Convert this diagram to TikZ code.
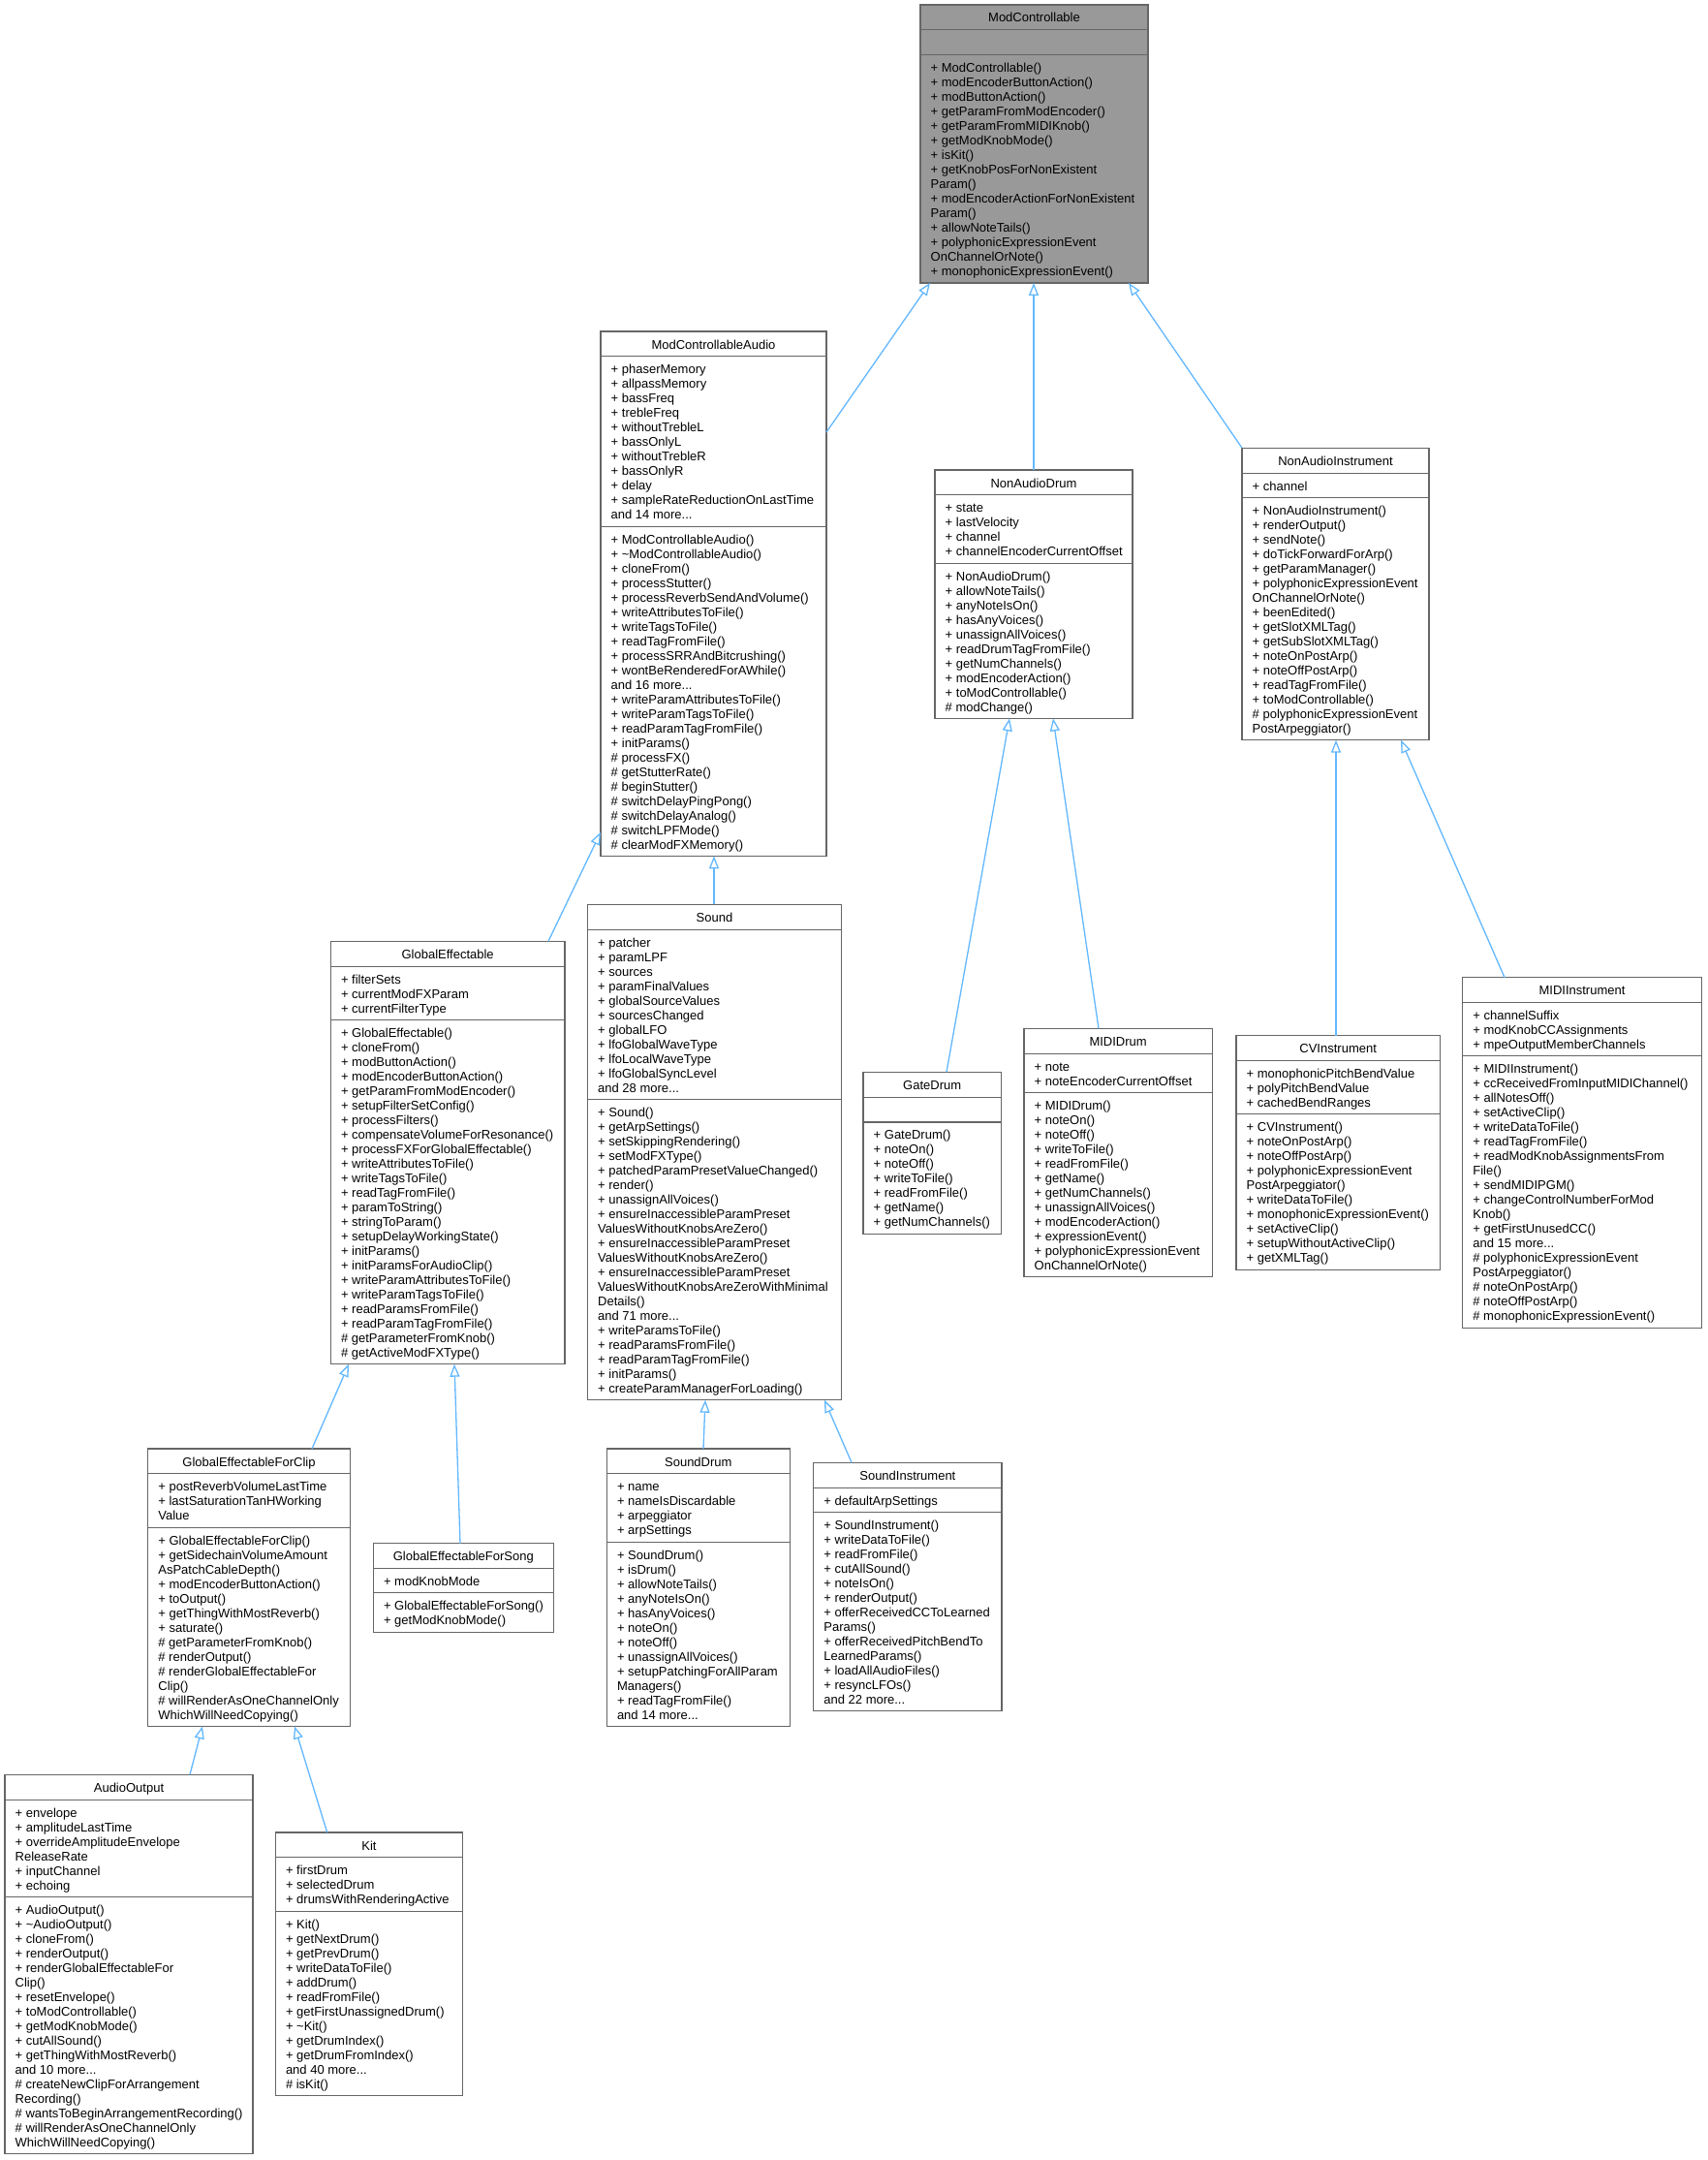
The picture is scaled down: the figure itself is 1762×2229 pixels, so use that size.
\documentclass[tikz,border=0pt]{standalone}
\usepackage{fontspec}
\setmainfont{Liberation Sans}
\usetikzlibrary{arrows.meta,calc}
\definecolor{bordergray}{HTML}{666666}
\definecolor{mcgray}{HTML}{999999}
\definecolor{edgeblue}{HTML}{63B8FF}
\tikzset{
  cls/.style={draw=bordergray, line width=1.2pt, fill=white, inner sep=0pt, outer sep=0pt, rectangle},
  sepline/.style={draw=bordergray, line width=1.2pt},
  ttl/.style={font=\fontsize{13}{15}\selectfont, inner sep=0pt},
  mem/.style={font=\fontsize{13}{15}\selectfont, align=left, inner sep=0pt},
  inh/.style={draw=edgeblue, line width=1.3pt, -{Triangle[open, length=13pt, width=10pt, line width=1.3pt]}},
}
% #1 name, #2 left, #3 right, #4 top, #5 title, #6 n attr lines, #7 attrs, #8 n method lines, #9 methods
\newcommand\umlclass[9]{%
  \pgfmathsetmacro\uW{#3-#2}%
  \pgfmathsetmacro\uS{#4+25.8}%
  \pgfmathsetmacro\uHA{#6==0 ? 25.8 : #6*15+10.3}%
  \pgfmathsetmacro\uT{\uS+\uHA}%
  \pgfmathsetmacro\uB{\uT+#8*15+10.3}%
  \pgfmathsetmacro\uH{\uB-#4}%
  \node[cls, minimum width=\uW pt, minimum height=\uH pt, anchor=north west] (#1) at (#2,#4) {};
  \draw[sepline] (#2,\uS) -- (#3,\uS);
  \draw[sepline] (#2,\uT) -- (#3,\uT);
  \node[ttl, anchor=base] (#1-t) at ({(#2+#3)/2},#4+18) {#5};
  \ifnum#6>0 \node[mem, anchor=north west] (#1-a) at (#2+10.5,\uS+7.3) {\strut#7};\fi
  \node[mem, anchor=north west] (#1-m) at (#2+10.5,\uT+7.3) {\strut#9};
}
\begin{document}
\begin{tikzpicture}[x=1pt, y=-1pt]
\fill[white] (0,0) rectangle (1762,2229);
\useasboundingbox (0,0) rectangle (1762,2229);

\begin{scope}
\tikzset{cls/.append style={fill=mcgray}}
\umlclass{MC}{950}{1185}{5}{ModControllable}{0}{}{15}{%
+ ModControllable()\\+ modEncoderButtonAction()\\+ modButtonAction()\\+ getParamFromModEncoder()\\+ getParamFromMIDIKnob()\\+ getModKnobMode()\\+ isKit()\\+ getKnobPosForNonExistent\\Param()\\+ modEncoderActionForNonExistent\\Param()\\+ allowNoteTails()\\+ polyphonicExpressionEvent\\OnChannelOrNote()\\+ monophonicExpressionEvent()}
\end{scope}

\umlclass{MCA}{620}{853}{342}{ModControllableAudio}{11}{%
+ phaserMemory\\+ allpassMemory\\+ bassFreq\\+ trebleFreq\\+ withoutTrebleL\\+ bassOnlyL\\+ withoutTrebleR\\+ bassOnlyR\\+ delay\\+ sampleRateReductionOnLastTime\\and 14 more...}{22}{%
+ ModControllableAudio()\\+ \textasciitilde ModControllableAudio()\\+ cloneFrom()\\+ processStutter()\\+ processReverbSendAndVolume()\\+ writeAttributesToFile()\\+ writeTagsToFile()\\+ readTagFromFile()\\+ processSRRAndBitcrushing()\\+ wontBeRenderedForAWhile()\\and 16 more...\\+ writeParamAttributesToFile()\\+ writeParamTagsToFile()\\+ readParamTagFromFile()\\+ initParams()\\\# processFX()\\\# getStutterRate()\\\# beginStutter()\\\# switchDelayPingPong()\\\# switchDelayAnalog()\\\# switchLPFMode()\\\# clearModFXMemory()}

\umlclass{NAD}{965}{1169}{485}{NonAudioDrum}{4}{%
+ state\\+ lastVelocity\\+ channel\\+ channelEncoderCurrentOffset}{10}{%
+ NonAudioDrum()\\+ allowNoteTails()\\+ anyNoteIsOn()\\+ hasAnyVoices()\\+ unassignAllVoices()\\+ readDrumTagFromFile()\\+ getNumChannels()\\+ modEncoderAction()\\+ toModControllable()\\\# modChange()}

\umlclass{NAI}{1282}{1475}{462.3}{NonAudioInstrument}{1}{%
+ channel}{16}{%
+ NonAudioInstrument()\\+ renderOutput()\\+ sendNote()\\+ doTickForwardForArp()\\+ getParamManager()\\+ polyphonicExpressionEvent\\OnChannelOrNote()\\+ beenEdited()\\+ getSlotXMLTag()\\+ getSubSlotXMLTag()\\+ noteOnPostArp()\\+ noteOffPostArp()\\+ readTagFromFile()\\+ toModControllable()\\\# polyphonicExpressionEvent\\PostArpeggiator()}

\umlclass{GE}{341.3}{583}{971.3}{GlobalEffectable}{3}{%
+ filterSets\\+ currentModFXParam\\+ currentFilterType}{23}{%
+ GlobalEffectable()\\+ cloneFrom()\\+ modButtonAction()\\+ modEncoderButtonAction()\\+ getParamFromModEncoder()\\+ setupFilterSetConfig()\\+ processFilters()\\+ compensateVolumeForResonance()\\+ processFXForGlobalEffectable()\\+ writeAttributesToFile()\\+ writeTagsToFile()\\+ readTagFromFile()\\+ paramToString()\\+ stringToParam()\\+ setupDelayWorkingState()\\+ initParams()\\+ initParamsForAudioClip()\\+ writeParamAttributesToFile()\\+ writeParamTagsToFile()\\+ readParamsFromFile()\\+ readParamTagFromFile()\\\# getParameterFromKnob()\\\# getActiveModFXType()}

\umlclass{Sound}{606.5}{868.5}{933.3}{Sound}{11}{%
+ patcher\\+ paramLPF\\+ sources\\+ paramFinalValues\\+ globalSourceValues\\+ sourcesChanged\\+ globalLFO\\+ lfoGlobalWaveType\\+ lfoLocalWaveType\\+ lfoGlobalSyncLevel\\and 28 more...}{20}{%
+ Sound()\\+ getArpSettings()\\+ setSkippingRendering()\\+ setModFXType()\\+ patchedParamPresetValueChanged()\\+ render()\\+ unassignAllVoices()\\+ ensureInaccessibleParamPreset\\ValuesWithoutKnobsAreZero()\\+ ensureInaccessibleParamPreset\\ValuesWithoutKnobsAreZero()\\+ ensureInaccessibleParamPreset\\ValuesWithoutKnobsAreZeroWithMinimal\\Details()\\and 71 more...\\+ writeParamsToFile()\\+ readParamsFromFile()\\+ readParamTagFromFile()\\+ initParams()\\+ createParamManagerForLoading()}

\umlclass{GateDrum}{891}{1033.3}{1106.3}{GateDrum}{0}{}{7}{%
+ GateDrum()\\+ noteOn()\\+ noteOff()\\+ writeToFile()\\+ readFromFile()\\+ getName()\\+ getNumChannels()}

\umlclass{MIDIDrum}{1057}{1251.3}{1061.3}{MIDIDrum}{2}{%
+ note\\+ noteEncoderCurrentOffset}{12}{%
+ MIDIDrum()\\+ noteOn()\\+ noteOff()\\+ writeToFile()\\+ readFromFile()\\+ getName()\\+ getNumChannels()\\+ unassignAllVoices()\\+ modEncoderAction()\\+ expressionEvent()\\+ polyphonicExpressionEvent\\OnChannelOrNote()}

\umlclass{CV}{1276}{1486.3}{1068.7}{CVInstrument}{3}{%
+ monophonicPitchBendValue\\+ polyPitchBendValue\\+ cachedBendRanges}{10}{%
+ CVInstrument()\\+ noteOnPostArp()\\+ noteOffPostArp()\\+ polyphonicExpressionEvent\\PostArpeggiator()\\+ writeDataToFile()\\+ monophonicExpressionEvent()\\+ setActiveClip()\\+ setupWithoutActiveClip()\\+ getXMLTag()}

\umlclass{MIDIInst}{1509.7}{1756.3}{1008.7}{MIDIInstrument}{3}{%
+ channelSuffix\\+ modKnobCCAssignments\\+ mpeOutputMemberChannels}{18}{%
+ MIDIInstrument()\\+ ccReceivedFromInputMIDIChannel()\\+ allNotesOff()\\+ setActiveClip()\\+ writeDataToFile()\\+ readTagFromFile()\\+ readModKnobAssignmentsFrom\\File()\\+ sendMIDIPGM()\\+ changeControlNumberForMod\\Knob()\\+ getFirstUnusedCC()\\and 15 more...\\\# polyphonicExpressionEvent\\PostArpeggiator()\\\# noteOnPostArp()\\\# noteOffPostArp()\\\# monophonicExpressionEvent()}

\umlclass{GEFC}{152.7}{361.3}{1495}{GlobalEffectableForClip}{3}{%
+ postReverbVolumeLastTime\\+ lastSaturationTanHWorking\\Value}{13}{%
+ GlobalEffectableForClip()\\+ getSidechainVolumeAmount\\AsPatchCableDepth()\\+ modEncoderButtonAction()\\+ toOutput()\\+ getThingWithMostReverb()\\+ saturate()\\\# getParameterFromKnob()\\\# renderOutput()\\\# renderGlobalEffectableFor\\Clip()\\\# willRenderAsOneChannelOnly\\WhichWillNeedCopying()}

\umlclass{GEFS}{385.3}{571.3}{1592.7}{GlobalEffectableForSong}{1}{%
+ modKnobMode}{2}{%
+ GlobalEffectableForSong()\\+ getModKnobMode()}

\umlclass{SoundDrum}{626.3}{815.3}{1495}{SoundDrum}{4}{%
+ name\\+ nameIsDiscardable\\+ arpeggiator\\+ arpSettings}{12}{%
+ SoundDrum()\\+ isDrum()\\+ allowNoteTails()\\+ anyNoteIsOn()\\+ hasAnyVoices()\\+ noteOn()\\+ noteOff()\\+ unassignAllVoices()\\+ setupPatchingForAllParam\\Managers()\\+ readTagFromFile()\\and 14 more...}

\umlclass{SoundInst}{839.7}{1034}{1509.3}{SoundInstrument}{1}{%
+ defaultArpSettings}{13}{%
+ SoundInstrument()\\+ writeDataToFile()\\+ readFromFile()\\+ cutAllSound()\\+ noteIsOn()\\+ renderOutput()\\+ offerReceivedCCToLearned\\Params()\\+ offerReceivedPitchBendTo\\LearnedParams()\\+ loadAllAudioFiles()\\+ resyncLFOs()\\and 22 more...}

\umlclass{AudioOutput}{5}{261}{1831.3}{AudioOutput}{6}{%
+ envelope\\+ amplitudeLastTime\\+ overrideAmplitudeEnvelope\\ReleaseRate\\+ inputChannel\\+ echoing}{17}{%
+ AudioOutput()\\+ \textasciitilde AudioOutput()\\+ cloneFrom()\\+ renderOutput()\\+ renderGlobalEffectableFor\\Clip()\\+ resetEnvelope()\\+ toModControllable()\\+ getModKnobMode()\\+ cutAllSound()\\+ getThingWithMostReverb()\\and 10 more...\\\# createNewClipForArrangement\\Recording()\\\# wantsToBeginArrangementRecording()\\\# willRenderAsOneChannelOnly\\WhichWillNeedCopying()}

\umlclass{Kit}{284.3}{477.7}{1891}{Kit}{3}{%
+ firstDrum\\+ selectedDrum\\+ drumsWithRenderingActive}{12}{%
+ Kit()\\+ getNextDrum()\\+ getPrevDrum()\\+ writeDataToFile()\\+ addDrum()\\+ readFromFile()\\+ getFirstUnassignedDrum()\\+ \textasciitilde Kit()\\+ getDrumIndex()\\+ getDrumFromIndex()\\and 40 more...\\\# isKit()}

% inheritance connectors (child -> parent)
\draw[inh] ($(MCA.north east)+(0,104)$) -- ($(MC.south west)+(10,0)$);
\draw[inh] ($(NAD.north west)+(102,0)$) -- ($(MC.south west)+(117,0)$);
\draw[inh] (NAI.north west) -- ($(MC.south west)+(215,0)$);
\draw[inh] ($(GE.north west)+(224.7,0)$) -- ($(MCA.south west)+(0,-24.6)$);
\draw[inh] ($(Sound.north west)+(130.5,0)$) -- ($(MCA.south west)+(117,0)$);
\draw[inh] ($(GateDrum.north west)+(86,0)$) -- ($(NAD.south west)+(77,0)$);
\draw[inh] ($(MIDIDrum.north west)+(77,0)$) -- ($(NAD.south west)+(122,0)$);
\draw[inh] ($(CV.north west)+(103,0)$) -- ($(NAI.south west)+(97,0)$);
\draw[inh] ($(MIDIInst.north west)+(43.3,0)$) -- ($(NAI.south west)+(164,0)$);
\draw[inh] ($(GEFC.north west)+(169.3,0)$) -- ($(GE.south west)+(18.7,0)$);
\draw[inh] ($(GEFS.north west)+(89.7,0)$) -- ($(GE.south west)+(127.7,0)$);
\draw[inh] ($(SoundDrum.north west)+(99.7,0)$) -- ($(Sound.south west)+(121.5,0)$);
\draw[inh] ($(SoundInst.north west)+(39.3,0)$) -- ($(Sound.south west)+(244.5,0)$);
\draw[inh] ($(AudioOutput.north west)+(191,0)$) -- ($(GEFC.south west)+(56.3,0)$);
\draw[inh] ($(Kit.north west)+(53.4,0)$) -- ($(GEFC.south west)+(151.3,0)$);
\end{tikzpicture}
\end{document}
